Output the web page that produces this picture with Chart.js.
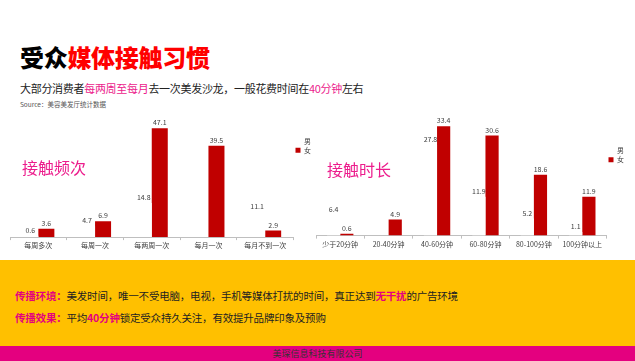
<!DOCTYPE html>
<html>
<head>
<meta charset="utf-8">
<script src="https://cdn.jsdelivr.net/npm/chart.js@4/dist/chart.umd.min.js"></script>
<style>
  body { margin: 0; width: 635px; height: 361px; position: relative; overflow: hidden; background: #fff;
         font-family: "Noto Sans CJK SC", "Noto Sans", sans-serif; }
  .abs { position: absolute; white-space: nowrap; }
  .pink { color: #EC1C8C; }
  #title { left: 20px; top: 45px; font-size: 24px; line-height: 24px; font-weight: 900; color: #000; letter-spacing: -0.3px; }
  #title span { color: #FF0000; }
  #sub { left: 20px; top: 82px; font-size: 11px; line-height: 12px; color: #222; letter-spacing: -0.3px; }
  #source { left: 20px; top: 100px; font-size: 6.5px; line-height: 8px; color: #555; }
  .tag { font-size: 16px; line-height: 16px; color: #EC1C8C; }
  #band { left: 0; top: 260px; width: 635px; height: 86px; background: #FFC000; }
  .line { left: 15px; font-size: 10.5px; line-height: 12px; color: #222; letter-spacing: -0.2px; }
  .line b { color: #E4007F; }
  #footer { left: 0; top: 346px; width: 635px; height: 15px; background: #E4007F; text-align: center;
            font-size: 9px; line-height: 15px; color: #333; }
  canvas { position: absolute; }
</style>
</head>
<body>
<div class="abs" id="title">受众<span>媒体接触习惯</span></div>
<div class="abs" id="sub">大部分消费者<span class="pink">每两周至每月</span>去一次美发沙龙，一般花费时间在<span class="pink">40分钟</span>左右</div>
<div class="abs" id="source">Source：美容美发厅统计数据</div>

<canvas id="freqChart" width="321" height="150" style="left:0;top:110px"></canvas>
<canvas id="timeChart" width="335" height="150" style="left:300px;top:110px"></canvas>

<div class="abs tag" style="left:22px;top:159px">接触频次</div>
<div class="abs tag" style="left:327px;top:161px">接触时长</div>

<div class="abs" id="band"></div>
<div class="abs line" style="top:290px"><b>传播环境：</b>美发时间，唯一不受电脑，电视，手机等媒体打扰的时间，真正达到<b>无干扰</b>的广告环境</div>
<div class="abs line" style="top:312px"><b>传播效果：</b>平均<b>40分钟</b>锁定受众持久关注，有效提升品牌印象及预购</div>
<div class="abs" id="footer">美琛信息科技有限公司</div>

<script>
const seriesNames = ["男", "女"];

const freqLabels = ["每周多次", "每周一次", "每两周一次", "每月一次", "每月不到一次"];
const freqMale = [0.6, 4.7, 14.8, null, 11.1];
const freqFemale = [3.6, 6.9, 47.1, 39.5, 2.9];

const timeLabels = ["少于20分钟", "20-40分钟", "40-60分钟", "60-80分钟", "80-100分钟", "100分钟以上"];
const timeMale = [6.4, null, 27.8, 11.9, 5.2, 1.1];
const timeFemale = [0.6, 4.9, 33.4, 30.6, 18.6, 11.9];

const FONT = '"Noto Sans CJK SC", "Noto Sans", sans-serif';

// values written above each bar
const valueLabels = {
  id: "valueLabels",
  afterDatasetsDraw(chart) {
    const ctx = chart.ctx;
    ctx.save();
    ctx.font = "7px " + FONT;
    ctx.fillStyle = "#404040";
    ctx.textAlign = "center";
    ctx.textBaseline = "bottom";
    chart.data.datasets.forEach((ds, i) => {
      chart.getDatasetMeta(i).data.forEach((bar, j) => {
        if (ds.data[j] == null) return;
        ctx.fillText(ds.data[j].toFixed(1), bar.x, bar.y - 2);
      });
    });
    ctx.restore();
  },
};

function makeChart(id, labels, male, female, opts) {
  return new Chart(document.getElementById(id), {
    type: "bar",
    data: {
      labels: labels,
      datasets: [
        { label: seriesNames[0], data: male, backgroundColor: "#FFFFFF", borderWidth: 0 },
        { label: seriesNames[1], data: female, backgroundColor: "#C00000", borderWidth: 0 },
      ],
    },
    options: {
      responsive: false,
      animation: false,
      categoryPercentage: opts.catPct,
      barPercentage: 1,
      layout: { padding: opts.padding },
      plugins: {
        tooltip: { enabled: false },
        legend: {
          position: "right",
          align: "start",
          title: { display: true, text: "", font: { size: 1 }, padding: { top: opts.legendTop, bottom: 0 } },
          labels: {
            boxWidth: 5,
            boxHeight: 5,
            padding: 2,
            color: "#404040",
            font: { size: 7, family: FONT },
          },
        },
      },
      scales: {
        x: {
          offset: true,
          grid: { display: true, offset: true, drawOnChartArea: false, drawTicks: true, tickLength: 3, color: "#BFBFBF" },
          border: { display: true, color: "#BFBFBF" },
          ticks: { color: "#404040", padding: 1.5, maxRotation: 0, autoSkip: false, font: { size: 7, family: FONT } },
        },
        y: { display: false, min: 0, max: opts.max },
      },
    },
    plugins: [valueLabels],
  });
}

makeChart("freqChart", freqLabels, freqMale, freqFemale, {
  catPct: 0.565,
  max: 50,
  padding: { left: 10, top: 11.5, right: 0, bottom: 8.5 },
  legendTop: 13,
});

makeChart("timeChart", timeLabels, timeMale, timeFemale, {
  catPct: 0.545,
  max: 35,
  padding: { left: 16, top: 11, right: 1, bottom: 10 },
  legendTop: 23,
});
</script>
</body>
</html>
